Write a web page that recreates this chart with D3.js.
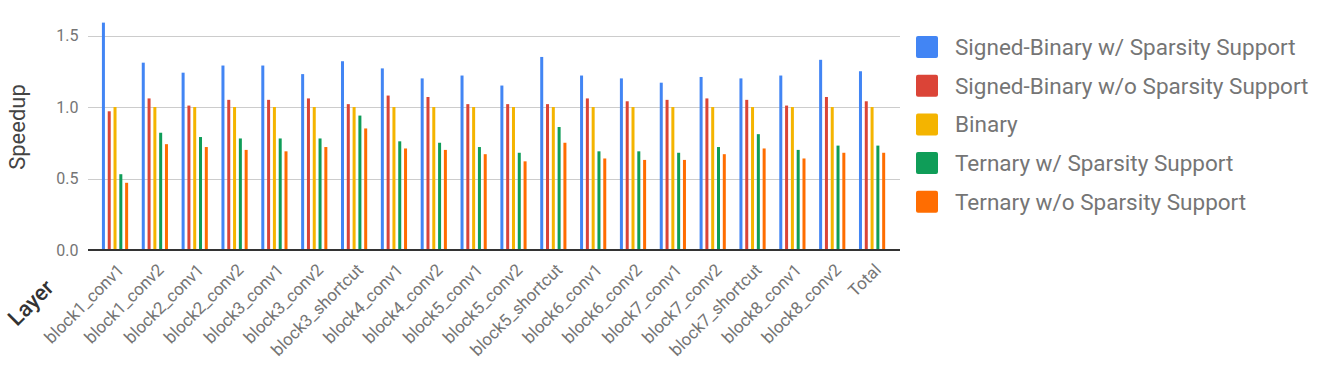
<!DOCTYPE html>
<html><head><meta charset="utf-8">
<script src="https://cdn.jsdelivr.net/npm/d3@7"></script>
<style>body{margin:0;background:#fff;} text{font-family:Roboto,"Noto Sans",sans-serif;}</style>
</head><body>
<svg id="c" width="1319" height="368"></svg>
<script>
const categories = ["block1_conv1","block1_conv2","block2_conv1","block2_conv2","block3_conv1","block3_conv2","block3_shortcut","block4_conv1","block4_conv2","block5_conv1","block5_conv2","block5_shortcut","block6_conv1","block6_conv2","block7_conv1","block7_conv2","block7_shortcut","block8_conv1","block8_conv2","Total"];
const seriesNames = ["Signed-Binary w/ Sparsity Support","Signed-Binary w/o Sparsity Support","Binary","Ternary w/ Sparsity Support","Ternary w/o Sparsity Support"];
const signedBinarySparse = [1.59,1.31,1.24,1.29,1.29,1.23,1.32,1.27,1.20,1.22,1.15,1.35,1.22,1.20,1.17,1.21,1.20,1.22,1.33,1.25];
const signedBinaryDense  = [0.97,1.06,1.01,1.05,1.05,1.06,1.02,1.08,1.07,1.02,1.02,1.02,1.06,1.04,1.05,1.06,1.05,1.01,1.07,1.04];
const binary             = [1.00,1.00,1.00,1.00,1.00,1.00,1.00,1.00,1.00,1.00,1.00,1.00,1.00,1.00,1.00,1.00,1.00,1.00,1.00,1.00];
const ternarySparse      = [0.53,0.82,0.79,0.78,0.78,0.78,0.94,0.76,0.75,0.72,0.68,0.86,0.69,0.69,0.68,0.72,0.81,0.70,0.73,0.73];
const ternaryDense       = [0.47,0.74,0.72,0.70,0.69,0.72,0.85,0.71,0.70,0.67,0.62,0.75,0.64,0.63,0.63,0.67,0.71,0.64,0.68,0.68];
const yTicks = [0.0, 0.5, 1.0, 1.5];
const colors = ["#4285F4","#DB4437","#F4B400","#0F9D58","#FF6D01"];

const series = [signedBinarySparse, signedBinaryDense, binary, ternarySparse, ternaryDense];
const svg = d3.select("#c");
const plot = {left:88, right:900, top:20, bottom:250};

const y = d3.scaleLinear().domain([0, 1.5]).range([250, 35.5]);
const x0 = d3.scaleBand().domain(categories).range([95.1, 892]).padding(0);
const x1 = d3.scaleBand().domain(d3.range(5)).range([0, 29]).padding(0);
const bw = 3;

// gridlines
svg.append("g").selectAll("line").data(yTicks.filter(d=>d>0)).join("line")
  .attr("x1", plot.left).attr("x2", plot.right)
  .attr("y1", d=>Math.round(y(d))+0.5).attr("y2", d=>Math.round(y(d))+0.5)
  .attr("stroke", "#cccccc").attr("stroke-width", 1);

// y axis labels
const yAxis = d3.axisLeft(y).tickValues(yTicks).tickFormat(d3.format(".1f")).tickSize(0).tickPadding(9.5);
const ya = svg.append("g").attr("transform", `translate(${plot.left},0)`).call(yAxis);
ya.select(".domain").remove();
ya.selectAll("text").attr("font-size", 16).attr("fill", "#757575").attr("font-family","Roboto");

// bars
const groups = svg.append("g").selectAll("g").data(categories).join("g")
  .attr("transform", d => `translate(${x0(d) + x0.bandwidth()/2 - 14.5},0)`);
groups.selectAll("rect").data((d,i) => series.map((s,k)=>({k, v:s[i]}))).join("rect")
  .attr("x", d => x1(d.k) + (x1.bandwidth()-bw)/2)
  .attr("width", bw)
  .attr("y", d => y(d.v))
  .attr("height", d => y(0) - y(d.v))
  .attr("fill", d => colors[d.k]);

// baseline
svg.append("line").attr("x1", plot.left).attr("x2", plot.right)
  .attr("y1", 250).attr("y2", 250).attr("stroke", "#333").attr("stroke-width", 2);

// x axis labels
const xAxis = d3.axisBottom(x0).tickSize(0);
const xa = svg.append("g").attr("transform", "translate(0,250)").call(xAxis);
xa.select(".domain").remove();
xa.selectAll("text")
  .attr("font-size", 17).attr("fill", "#757575").attr("font-family","Roboto")
  .attr("text-anchor", "end")
  .attr("transform", "translate(1,12) rotate(-45)")
  .attr("dy", "0.75em").attr("y", 0);

// axis titles
svg.append("text").attr("transform", "translate(25,127) rotate(-90)")
  .attr("text-anchor", "middle").attr("font-size", 22).attr("fill", "#444").text("Speedup");
svg.append("text").attr("transform", "translate(36,308) rotate(-45)")
  .attr("text-anchor", "middle").attr("font-size", 22).attr("fill", "#333").attr("font-weight", 500).text("Layer");

// legend
const lg = svg.append("g").selectAll("g").data(seriesNames).join("g")
  .attr("transform", (d,i) => `translate(916,${47 + i*38.7})`);
lg.append("rect").attr("x", 0).attr("y", -11).attr("width", 22).attr("height", 22).attr("rx", 2)
  .attr("fill", (d,i)=>colors[i]);
lg.append("text").attr("x", 39).attr("y", 0).attr("dy", "0.35em")
  .attr("font-size", 22.5).attr("fill", "#757575").text(d=>d);
</script>
</body></html>
